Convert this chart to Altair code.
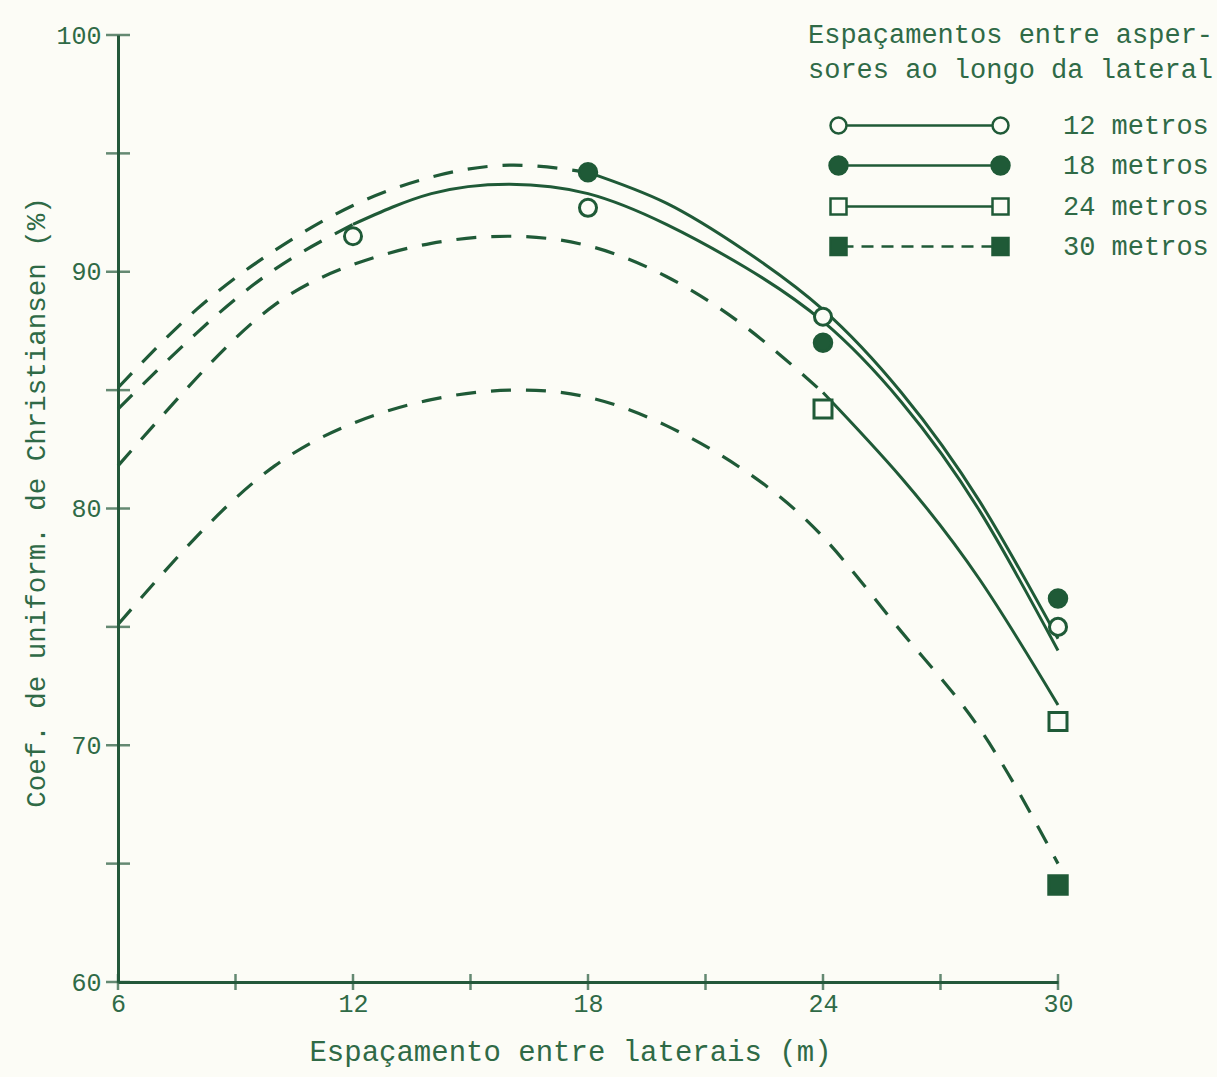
import altair as alt
import pandas as pd

# ---------------- data ----------------
series_names = ["12 metros", "18 metros", "24 metros", "30 metros"]

curve_x = [6, 8, 10, 12, 14, 16, 18, 20, 22, 24, 26, 28, 30]
curve_12 = [84.2, 87.4, 90.1, 92.0, 93.3, 93.7, 93.3, 92.0, 90.2, 87.9, 84.5, 79.9, 74.0]
curve_18 = [85.1, 88.4, 90.9, 92.8, 94.0, 94.5, 94.2, 92.9, 90.9, 88.4, 84.9, 80.3, 74.5]
curve_24 = [81.8, 85.5, 88.6, 90.3, 91.2, 91.5, 91.1, 89.8, 87.7, 84.9, 81.3, 77.0, 71.7]
curve_30 = [75.1, 78.8, 81.8, 83.6, 84.6, 85.0, 84.7, 83.5, 81.6, 78.8, 74.8, 70.7, 65.0]

obs_x_12 = [12, 18, 24, 30]
obs_y_12 = [91.5, 92.7, 88.1, 75.0]
obs_x_18 = [18, 24, 30]
obs_y_18 = [94.2, 87.0, 76.2]
obs_x_24 = [24, 30]
obs_y_24 = [84.2, 71.0]
obs_x_30 = [30]
obs_y_30 = [64.1]

x_tick_values = [6, 9, 12, 15, 18, 21, 24, 27, 30]
x_label_values = [6, 12, 18, 24, 30]
y_tick_values = [60, 65, 70, 75, 80, 85, 90, 95, 100]
y_label_values = [60, 70, 80, 90, 100]

x_title = "Espaçamento entre laterais (m)"
y_title = "Coef. de uniform. de Christiansen (%)"
legend_title = ["Espaçamentos entre asper-", "sores ao longo da lateral"]

# ---------------- styles ----------------
BG = "#fcfcf6"
LINE = "#1f5a37"
AXIS = "#24583a"
TEXT = "#2f6a46"
FONT = "Liberation Mono"

curves = dict(zip(series_names, [curve_12, curve_18, curve_24, curve_30]))
obs = dict(zip(series_names, [(obs_x_12, obs_y_12), (obs_x_18, obs_y_18),
                              (obs_x_24, obs_y_24), (obs_x_30, obs_y_30)]))

curve_rows = []
for s in series_names:
    start = min(obs[s][0])
    for xv, yv in zip(curve_x, curves[s]):
        if xv <= start:
            curve_rows.append({"series": s, "x": xv, "y": yv, "part": "dashed"})
        if xv >= start and start < max(curve_x):
            curve_rows.append({"series": s, "x": xv, "y": yv, "part": "solid"})
curve_df = pd.DataFrame(curve_rows)

obs_rows = []
for s in series_names:
    for xv, yv in zip(*obs[s]):
        obs_rows.append({"series": s, "x": xv, "y": yv})
obs_df = pd.DataFrame(obs_rows)

# ---------------- scales / axes ----------------
x_enc = alt.X(
    "x:Q",
    scale=alt.Scale(domain=[x_tick_values[0], x_tick_values[-1]], nice=False, zero=False),
    axis=alt.Axis(
        values=x_label_values, title=x_title, grid=False, ticks=False,
        domainColor=AXIS, domainWidth=3, labelFont=FONT, labelFontSize=25,
        labelColor=TEXT, labelPadding=9, labelFlush=False, format="d",
        titleFont=FONT, titleFontSize=29, titleFontWeight="normal", titleColor=TEXT,
        titleX=452, titleY=78, titleBaseline="alphabetic",
    ),
)
y_enc = alt.Y(
    "y:Q",
    scale=alt.Scale(domain=[y_tick_values[0], y_tick_values[-1]], nice=False, zero=False),
    axis=alt.Axis(
        values=y_label_values, title=y_title, grid=False, ticks=False,
        domainColor=AXIS, domainWidth=3, labelFont=FONT, labelFontSize=25,
        labelColor=TEXT, labelPadding=17, labelFlush=False, format="d",
        titleFont=FONT, titleFontSize=27.5, titleFontWeight="normal", titleColor=TEXT,
        titleX=-74, titleY=467, titleBaseline="alphabetic",
    ),
)

dashed = alt.Chart(curve_df).transform_filter("datum.part == 'dashed'").mark_line(
    color=LINE, strokeWidth=3.2, strokeDash=[20, 15], interpolate="natural"
).encode(x=x_enc, y=y_enc, detail="series:N")

solid = alt.Chart(curve_df).transform_filter("datum.part == 'solid'").mark_line(
    color=LINE, strokeWidth=3, interpolate="natural"
).encode(x="x:Q", y="y:Q", detail="series:N")

points = alt.Chart(obs_df).mark_point(stroke=LINE, strokeWidth=3, opacity=1).encode(
    x="x:Q",
    y="y:Q",
    shape=alt.Shape("series:N", scale=alt.Scale(domain=series_names,
                    range=["circle", "circle", "square", "square"]), legend=None),
    fill=alt.Fill("series:N", scale=alt.Scale(domain=series_names,
                  range=[BG, LINE, BG, LINE]), legend=None),
    size=alt.Size("series:O", scale=alt.Scale(domain=series_names,
                  range=[290, 340, 170, 330]), legend=None),
)

x_ticks = alt.Chart(pd.DataFrame({"x": x_tick_values})).mark_tick(
    orient="vertical", size=16, thickness=2.5, color=AXIS
).encode(x="x:Q", y=alt.datum(y_tick_values[0]))

y_ticks = alt.Chart(pd.DataFrame({"y": y_tick_values})).mark_tick(
    orient="horizontal", size=24, thickness=2.5, color=AXIS
).encode(y="y:Q", x=alt.datum(x_tick_values[0]))

# legend symbols: line segment with a marker at each end (unit = 10 px at symbolSize 400)
legend_paths = [
    "M-7.3,0L7.3,0M-8.9,0A0.8,0.8,0,1,0,-7.3,0A0.8,0.8,0,1,0,-8.9,0ZM7.3,0A0.8,0.8,0,1,0,8.9,0A0.8,0.8,0,1,0,7.3,0Z",
    "M-7.2,0L7.2,0M-9,0A0.9,0.9,0,1,0,-7.2,0A0.9,0.9,0,1,0,-9,0ZM7.2,0A0.9,0.9,0,1,0,9,0A0.9,0.9,0,1,0,7.2,0Z",
    "M-7.3,0L7.3,0M-8.9,-0.8L-7.3,-0.8L-7.3,0.8L-8.9,0.8ZM7.3,-0.8L8.9,-0.8L8.9,0.8L7.3,0.8Z",
    "M-7.3,0L-6.6,0M-5.8,0L-4.6,0M-3.8,0L-2.6,0M-1.8,0L-0.6,0M0.2,0L1.4,0M2.2,0L3.4,0M4.2,0L5.4,0M6.2,0L7.3,0"
    "M-8.9,-0.85L-7.3,-0.85L-7.3,0.85L-8.9,0.85ZM7.3,-0.85L8.9,-0.85L8.9,0.85L7.3,0.85Z",
]

legend_spec = dict(
    orient="none", legendX=690, legendY=-13, padding=0,
    title=legend_title, titleFont=FONT, titleFontSize=27, titleFontWeight="normal",
    titleColor=TEXT, titleLineHeight=35, titleLimit=800, titlePadding=28,
    labelFont=FONT, labelFontSize=27, labelColor=TEXT, labelLimit=400,
    labelOffset=130, symbolOffset=98, symbolSize=400, symbolStrokeWidth=2.5,
    symbolStrokeColor=LINE, rowPadding=12,
)

legend_layer = alt.Chart(pd.DataFrame({"series": series_names})).transform_filter(
    "false"
).mark_point(strokeWidth=2.5, opacity=1).encode(
    shape=alt.Shape("series:N", scale=alt.Scale(domain=series_names, range=legend_paths),
                    legend=alt.Legend(**legend_spec)),
    fill=alt.Fill("series:N", scale=alt.Scale(domain=series_names, range=[BG, LINE, BG, LINE]),
                  legend=alt.Legend(**legend_spec)),
    stroke=alt.Stroke("series:N", scale=alt.Scale(domain=series_names, range=[LINE] * 4),
                      legend=alt.Legend(**legend_spec)),
)

chart = alt.layer(dashed, solid, x_ticks, y_ticks, points, legend_layer).resolve_scale(
    shape="independent", fill="independent", stroke="independent"
).properties(
    width=940, height=947,
    autosize=alt.AutoSizeParams(type="none"),
    padding={"left": 118, "top": 35, "right": 159, "bottom": 95},
    background=BG,
).configure_view(stroke=None)

chart.save("out.html", embed_options={"renderer": "svg", "actions": False})
